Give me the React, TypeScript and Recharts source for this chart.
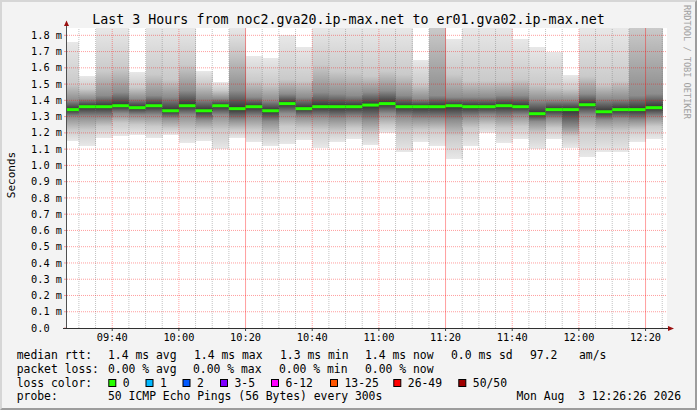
import React from "react"
import {
  ComposedChart,
  Bar,
  Scatter,
  XAxis,
  YAxis,
  CartesianGrid,
  ReferenceLine,
} from "recharts"

// one smoke column per 5 minute step, labelled by the step's end time
const stepEnds = [
  "09:30", "09:35", "09:40", "09:45", "09:50", "09:55",
  "10:00", "10:05", "10:10", "10:15", "10:20", "10:25",
  "10:30", "10:35", "10:40", "10:45", "10:50", "10:55",
  "11:00", "11:05", "11:10", "11:15", "11:20", "11:25",
  "11:30", "11:35", "11:40", "11:45", "11:50", "11:55",
  "12:00", "12:05", "12:10", "12:15", "12:20", "12:25",
]

// rtt in ms
const rttMedian = [
  1.343, 1.361, 1.361, 1.367, 1.355, 1.367, 1.336, 1.367, 1.336, 1.367, 1.349, 1.361,
  1.336, 1.38, 1.349, 1.361, 1.361, 1.361, 1.371, 1.38, 1.361, 1.361, 1.361, 1.367,
  1.361, 1.361, 1.367, 1.361, 1.318, 1.343, 1.343, 1.373, 1.33, 1.343, 1.343, 1.355,
]
const rttMin = [
  1.15, 1.12, 1.17, 1.18, 1.19, 1.17, 1.19, 1.14, 1.15, 1.1, 1.17, 1.145,
  1.12, 1.13, 1.155, 1.11, 1.145, 1.165, 1.125, 1.2, 1.08, 1.145, 1.12, 1.04,
  1.12, 1.2, 1.14, 1.16, 1.1, 1.16, 1.11, 1.05, 1.085, 1.08, 1.145, 1.165,
]
const rttP10 = [
  1.22, 1.22, 1.24, 1.26, 1.25, 1.24, 1.23, 1.22, 1.22, 1.22, 1.22, 1.22,
  1.19, 1.24, 1.23, 1.22, 1.21, 1.23, 1.2, 1.25, 1.21, 1.22, 1.22, 1.18,
  1.23, 1.25, 1.23, 1.24, 1.2, 1.23, 1.18, 1.22, 1.21, 1.21, 1.22, 1.24,
]
const rttP25 = [
  1.3, 1.3, 1.3, 1.32, 1.31, 1.31, 1.29, 1.31, 1.28, 1.31, 1.28, 1.3,
  1.27, 1.32, 1.3, 1.3, 1.29, 1.3, 1.28, 1.32, 1.3, 1.29, 1.29, 1.28,
  1.3, 1.31, 1.3, 1.31, 1.27, 1.29, 1.24, 1.31, 1.28, 1.29, 1.28, 1.3,
]
const rttP75 = [
  1.4, 1.41, 1.43, 1.45, 1.41, 1.43, 1.42, 1.46, 1.41, 1.41, 1.46, 1.42,
  1.4, 1.44, 1.42, 1.45, 1.44, 1.43, 1.45, 1.46, 1.43, 1.41, 1.43, 1.42,
  1.42, 1.42, 1.43, 1.43, 1.4, 1.4, 1.4, 1.44, 1.41, 1.41, 1.43, 1.44,
]
const rttP90 = [
  1.5, 1.47, 1.58, 1.6, 1.48, 1.56, 1.53, 1.62, 1.5, 1.46, 1.7, 1.52,
  1.5, 1.53, 1.52, 1.62, 1.58, 1.57, 1.55, 1.58, 1.56, 1.5, 2.4, 1.56,
  1.52, 1.52, 1.52, 1.53, 1.5, 1.48, 1.47, 1.55, 1.5, 1.52, 2.4, 2.0,
]
const rttMax = [
  1.76, 1.55, 1.9, 1.88, 1.576, 1.87, 1.86, 1.85, 1.58, 1.51, 2.6, 1.67,
  1.66, 1.8, 1.73, 1.87, 1.86, 1.85, 1.86, 1.86, 1.87, 1.65, 3.2, 1.78,
  1.86, 1.85, 1.86, 1.78, 1.73, 1.7, 1.556, 1.86, 1.85, 1.85, 3.2, 2.6,
]

const yTicks = [0, 0.1, 0.2, 0.3, 0.4, 0.5, 0.6, 0.7, 0.8, 0.9, 1.0, 1.1, 1.2, 1.3, 1.4, 1.5, 1.6, 1.7, 1.8]
const timeTicks = ["09:40", "10:00", "10:20", "10:40", "11:00", "11:20", "11:40", "12:00", "12:20"]
const hourLines = ["10:20", "11:20", "12:20"]
const rangeStart = "09:26:26"
const rangeEnd = "12:26:26"

const lossLegend = [
  { label: "0", color: "#26ff00" },
  { label: "1", color: "#00b8ff" },
  { label: "2", color: "#0059ff" },
  { label: "3-5", color: "#7e00ff" },
  { label: "6-12", color: "#ff00ff" },
  { label: "13-25", color: "#ff5500" },
  { label: "26-49", color: "#ff0000" },
  { label: "50/50", color: "#a00000" },
]
const lossBoxX = [108.3, 145.5, 182.5, 220, 271, 330, 393.3, 458.3]

const W = 697
const H = 410
const PLOT_W = 600
const Y_MAX = 1.845
const MONO = "'DejaVu Sans Mono', monospace"
const GREEN = "#26ff00"
const MGRID = "rgba(255,0,0,0.38)"
const GRID = "rgba(120,120,120,0.45)"

const toMin = (s: string) => {
  const [h, m, sec = "0"] = s.split(":")
  return Number(h) * 60 + Number(m) + Number(sec) / 60
}
const fmtTime = (m: number) => {
  const r = Math.round(m)
  return `${String(Math.floor(r / 60)).padStart(2, "0")}:${String(r % 60).padStart(2, "0")}`
}

const t0 = toMin(rangeStart)
const t1 = toMin(rangeEnd)
const STEP_W = (PLOT_W * 5) / (t1 - t0)

const data = stepEnds.map((end, i) => ({
  t: toMin(end) - 2.5,
  base: rttMin[i],
  s1: rttP10[i] - rttMin[i],
  s2: rttP25[i] - rttP10[i],
  s3: rttMedian[i] - rttP25[i],
  s4: rttP75[i] - rttMedian[i],
  s5: rttP90[i] - rttP75[i],
  s6: rttMax[i] - rttP90[i],
  med: rttMedian[i],
}))

// outer pings light, inner pings dark (smokeping grey ramp)
const bands = [
  { key: "s1", top: "#cacaca", bottom: "#e8e8e8" },
  { key: "s2", top: "#8d8d8d", bottom: "#cacaca" },
  { key: "s3", top: "#323232", bottom: "#8d8d8d" },
  { key: "s4", top: "#8d8d8d", bottom: "#323232" },
  { key: "s5", top: "#cacaca", bottom: "#8d8d8d" },
  { key: "s6", top: "#e8e8e8", bottom: "#cacaca" },
]

function TimeTick(props: any) {
  return (
    <text x={props.x} y={props.y + 8} textAnchor="middle" fontFamily={MONO} fontSize={10.3} fill="#000">
      {fmtTime(props.payload.value)}
    </text>
  )
}

function ValueTick(props: any) {
  const v = props.payload.value
  return (
    <text x={31} y={props.y + 3.6} textAnchor="start" fontFamily={MONO} fontSize={10.3} fill="#000">
      {v === 0 ? "0.0" : `${v.toFixed(1)} m`}
    </text>
  )
}

function MedianMark(props: any) {
  return <rect x={props.cx - STEP_W / 2} y={props.cy - 1.5} width={STEP_W} height={3} fill={GREEN} />
}

const minorTimes = stepEnds.filter((s) => !timeTicks.includes(s)).map(toMin)

export default function App() {
  const legendX = 16.7
  const valX = 108
  return (
    <div style={{ position: "absolute", left: 0, top: 0, width: W, height: H, background: "#f3f3f3" }}>
      <ComposedChart
        width={W}
        height={H}
        data={data}
        margin={{ top: 28, right: 30, bottom: 62, left: 7 }}
        barCategoryGap={0}
        barGap={0}
      >
        <defs>
          {bands.map((b) => (
            <linearGradient key={b.key} id={`g-${b.key}`} x1="0" y1="0" x2="0" y2="1">
              <stop offset="0%" stopColor={b.top} />
              <stop offset="100%" stopColor={b.bottom} />
            </linearGradient>
          ))}
        </defs>
        <CartesianGrid fill="#ffffff" horizontal={false} vertical={false} />
        <XAxis
          type="number"
          dataKey="t"
          domain={[t0, t1]}
          allowDataOverflow
          ticks={timeTicks.map(toMin)}
          interval={0}
          tick={<TimeTick />}
          tickSize={3}
          tickMargin={2}
          tickLine={{ stroke: "#404040" }}
          axisLine={false}
          height={20}
        />
        <YAxis
          type="number"
          domain={[0, Y_MAX]}
          allowDataOverflow
          ticks={yTicks}
          interval={0}
          tick={<ValueTick />}
          tickSize={3}
          tickLine={{ stroke: MGRID }}
          axisLine={false}
          width={60}
        />
        <Bar dataKey="base" stackId="smoke" fill="none" isAnimationActive={false} />
        {bands.map((b) => (
          <Bar
            key={b.key}
            dataKey={b.key}
            stackId="smoke"
            fill={`url(#g-${b.key})`}
            shapeRendering="crispEdges"
            isAnimationActive={false}
          />
        ))}
        {minorTimes.map((t) => (
          <ReferenceLine key={`m${t}`} x={t} stroke={GRID} strokeDasharray="1 1" zIndex={450} />
        ))}
        {yTicks.slice(1).map((v) => (
          <ReferenceLine key={`y${v}`} y={v} stroke={MGRID} strokeDasharray="1 1" zIndex={450} />
        ))}
        {timeTicks.map((s) => (
          <ReferenceLine
            key={`t${s}`}
            x={toMin(s)}
            stroke={MGRID}
            strokeDasharray={hourLines.includes(s) ? undefined : "1 1"}
            zIndex={450}
          />
        ))}
        <Scatter dataKey="med" shape={<MedianMark />} isAnimationActive={false} zIndex={700} />
      </ComposedChart>

      <svg
        width={W}
        height={H}
        style={{ position: "absolute", left: 0, top: 0, pointerEvents: "none" }}
        fontFamily={MONO}
      >
        <line x1={66.5} y1={23} x2={66.5} y2={329} stroke="#505050" />
        <line x1={63} y1={328.5} x2={669} y2={328.5} stroke="#303030" />
        <polygon points="64,26 69,26 66.5,20.5" fill="#9a1010" />
        <polygon points="668,326 668,331 674,328.5" fill="#9a1010" />

        <text x={348.5} y={24} textAnchor="middle" fontSize={13.3} fill="#000">
          Last 3 Hours from noc2.gva20.ip-max.net to er01.gva02.ip-max.net
        </text>
        <text x={14.5} y={175} transform="rotate(-90 14.5 175)" textAnchor="middle" fontSize={11} fill="#000">
          Seconds
        </text>
        <text x={684} y={5} transform="rotate(90 684 5)" fontSize={8.6} fill="#a0a0a0">
          RRDTOOL / TOBI OETIKER
        </text>

        <g fontSize={11.4} fill="#000">
          <text x={legendX} y={359}>median rtt:</text>
          <text x={valX} y={359}>1.4 ms avg</text>
          <text x={194} y={359}>1.4 ms max</text>
          <text x={280} y={359}>1.3 ms min</text>
          <text x={365} y={359}>1.4 ms now</text>
          <text x={451} y={359}>0.0 ms sd</text>
          <text x={530} y={359}>97.2</text>
          <text x={579} y={359}>am/s</text>

          <text x={legendX} y={372.5}>packet loss:</text>
          <text x={valX} y={372.5}>0.00 % avg</text>
          <text x={193} y={372.5}>0.00 % max</text>
          <text x={279} y={372.5}>0.00 % min</text>
          <text x={365} y={372.5}>0.00 % now</text>

          <text x={legendX} y={386.5}>loss color:</text>
          {lossLegend.map((l, i) => (
            <g key={l.label}>
              <rect x={lossBoxX[i] + 0.5} y={379.5} width={7} height={7} fill={l.color} stroke="#000" />
              <text x={lossBoxX[i] + 14.5} y={386.5}>{l.label}</text>
            </g>
          ))}

          <text x={legendX} y={400}>probe:</text>
          <text x={valX} y={400}>50 ICMP Echo Pings (56 Bytes) every 300s</text>
          <text x={681} y={400} textAnchor="end" style={{ whiteSpace: "pre" }}>
            {"Mon Aug  3 12:26:26 2026"}
          </text>
        </g>
      </svg>

      <div
        style={{
          position: "absolute",
          left: 0,
          top: 0,
          width: W,
          height: H,
          boxSizing: "border-box",
          borderTop: "2px solid #d6d6d6",
          borderLeft: "2px solid #d6d6d6",
          borderBottom: "2px solid #9c9c9c",
          borderRight: "2px solid #9c9c9c",
          pointerEvents: "none",
        }}
      />
    </div>
  )
}
